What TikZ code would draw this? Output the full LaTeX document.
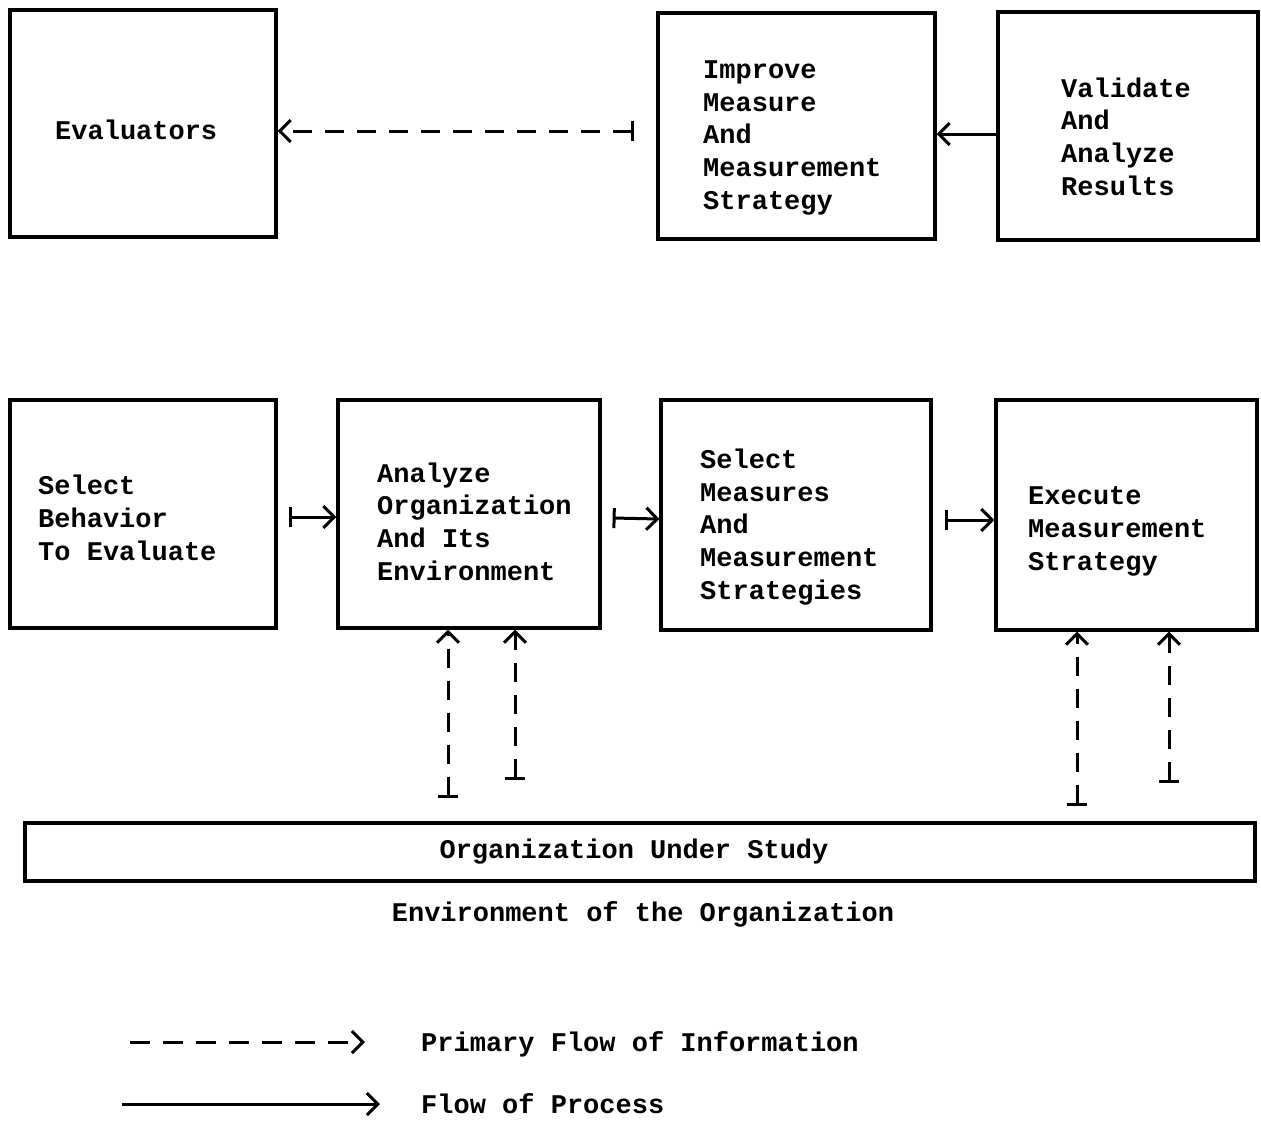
\documentclass[tikz,border=0pt]{standalone}
\usepackage{fontspec}
\setmonofont{Liberation Mono}
\usetikzlibrary{arrows.meta,calc}

\tikzset{
  box/.style={draw, line width=3.2pt, inner sep=0pt},
  lbl/.style={inner sep=0pt, anchor=base west, align=left},
  barb/.tip={Straight Barb[length=11pt,width=22pt,line width=3pt]},
  flow/.style={line width=3pt, {Bar[width=20pt,line width=3pt]}-{barb}},
  info/.style={flow, dash pattern=on 19pt off 13pt},
}

\begin{document}
\begin{tikzpicture}[x=1pt,y=-1pt,font=\fontsize{27}{32.6}\selectfont\ttfamily\bfseries]
\useasboundingbox (0,0) rectangle (1261,1120);

%Boxes upper row
\node[box, minimum width=266, minimum height=227] (eval) at (143,123.5) {};
\node[box, minimum width=277, minimum height=226] (improve) at (796.5,126) {};
\node[box, minimum width=260, minimum height=228] (validate) at (1128,126) {};
%Boxes lower row
\node[box, minimum width=266, minimum height=228] (behav) at (143,514) {};
\node[box, minimum width=262, minimum height=228] (analyze) at (469,514) {};
\node[box, minimum width=270, minimum height=230] (selmeas) at (796,515) {};
\node[box, minimum width=261, minimum height=230] (execute) at (1126.5,515) {};
%Organization
\node[box, minimum width=1230, minimum height=58] (org) at (640,852) {};

%Texts (base = last line)
\node[lbl] (evaltxt) at (55,139) {Evaluators};
\node[lbl] (improvetxt) at (703,209) {Improve\\Measure\\And\\Measurement\\Strategy};
\node[lbl] (validatetxt) at (1061,195) {Validate\\And\\Analyze\\Results};
\node[lbl] (behavtxt) at (38,560) {Select\\Behavior\\To Evaluate};
\node[lbl] (analyzetxt) at (377,580) {Analyze\\Organization\\And Its\\Environment};
\node[lbl] (selmeastxt) at (700,599) {Select\\Measures\\And\\Measurement\\Strategies};
\node[lbl] (executetxt) at (1028,570) {Execute\\Measurement\\Strategy};
\node[inner sep=0pt, anchor=base] (orgtxt) at (634,858) {Organization Under Study};
\node[inner sep=0pt, anchor=base] (envtxt) at (643,921) {Environment of the Organization};

%Process arrows
\draw[flow] ($(behav.east)+(11,3)$) -- ($(analyze.west)+(0,3)$);
\draw[flow] ($(analyze.east)+(11,4)$) -- ($(selmeas.west)+(0,4)$);
\draw[flow] ($(selmeas.east)+(12,5)$) -- ($(execute.west)+(0,5)$);
\draw[line width=3pt, -{barb}] ($(validate.west)+(0,8)$) -- ($(improve.east)+(0,8)$);

%Information arrows
\draw[info] ($(improve.west)+(-22,5)$) -- ($(eval.east)+(0,7.5)$);
\draw[info] ($(analyze.south |- org.north)+(-21,-23)$) -- ($(analyze.south)+(-21,0)$);
\draw[info] ($(analyze.south |- org.north)+(46,-41)$) -- ($(analyze.south)+(46,0)$);
\draw[info] ($(execute.south |- org.north)+(-49.5,-15)$) -- ($(execute.south)+(-49.5,0)$);
\draw[info] ($(execute.south |- org.north)+(42.5,-38)$) -- ($(execute.south)+(42.5,0)$);

%Legend
\coordinate (leg1a) at (130,1042);
\coordinate (leg1b) at (365,1042);
\coordinate (leg2a) at (122,1104);
\coordinate (leg2b) at (380,1104);
\draw[line width=3pt, dash pattern=on 20pt off 13pt, -{barb}] (leg1a) -- (leg1b);
\draw[line width=3pt, -{barb}] (leg2a) -- (leg2b);
\node[inner sep=0pt, anchor=base west] (leg1txt) at (421,1051) {Primary Flow of Information};
\node[inner sep=0pt, anchor=base west] (leg2txt) at (421,1113) {Flow of Process};

\end{tikzpicture}
\end{document}
